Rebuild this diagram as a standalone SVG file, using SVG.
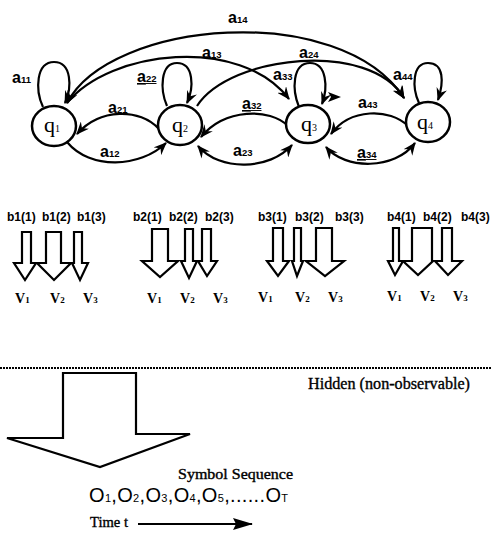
<svg xmlns="http://www.w3.org/2000/svg" width="492" height="536" viewBox="0 0 492 536">
  <defs>
    <marker id="arrow" viewBox="0 0 12 10" refX="11" refY="5" markerWidth="13" markerHeight="11" markerUnits="userSpaceOnUse" orient="auto-start-reverse">
      <path d="M0,0 L12,5 L0,10 L4,5 z" fill="#000"/>
    </marker>
    <marker id="bigarrow" viewBox="0 0 20 12" refX="19" refY="6" markerWidth="20" markerHeight="12" markerUnits="userSpaceOnUse" orient="auto">
      <path d="M0,0 L20,6 L0,12 L3,6 z" fill="#000"/>
    </marker>
  </defs>
  <style>
    .state { fill: #fff; stroke: #000; stroke-width: 2.5; }
    .edge { fill: none; stroke: #000; stroke-width: 2.2; }
    .qlbl { font-family: "Liberation Serif", serif; font-size: 22px; fill: #000; }
    .qsub { font-size: 10px; }
    .albl { font-family: "Liberation Sans", Arial, sans-serif; font-weight: bold; font-size: 16px; fill: #000; }
    .asub { font-size: 9.5px; }
    .ul { text-decoration: underline; }
    .blbl { font-family: "Liberation Sans", Arial, sans-serif; font-weight: bold; font-size: 12px; fill: #000; }
    .vlbl { font-family: "Liberation Serif", serif; font-weight: bold; font-size: 14px; fill: #000; }
    .vsub { font-size: 9px; }
    .block { fill: #fff; stroke: #000; stroke-width: 2.2; stroke-linejoin: miter; }
    .serif { font-family: "Liberation Serif", serif; fill: #000; stroke: #000; stroke-width: 0.35; }
    .obs { font-family: "Liberation Sans", Arial, sans-serif; font-size: 20px; fill: #000; }
    .osub { font-size: 11px; }
  </style>

  <!-- transitions between states -->
  <g id="connectors">
    <!-- self loops -->
    <path class="edge" d="M43,107 C35,90 36,62 54,62 C72,62 72,88 65,103" marker-end="url(#arrow)"/>
    <path class="edge" d="M167,106 C160,90 160,63 177,63 C194,63 194,88 187,103" marker-end="url(#arrow)"/>
    <path class="edge" d="M299,107 C292,90 292,63 310,63 C327,63 328,88 322,104" marker-end="url(#arrow)"/>
    <path d="M328,92 L341,97 L328,102 L331,97 z" fill="#000"/>
    <path class="edge" d="M419,103 C412,88 412,63 428,63 C444,63 444,82 438,100" marker-end="url(#arrow)"/>
    <!-- long-range arcs -->
    <path class="edge" d="M67,103 C110,20 340,0 404,98" marker-start="url(#arrow)" marker-end="url(#arrow)"/>
    <path class="edge" d="M67,103 C110,50 240,35 289,99" marker-end="url(#arrow)"/>
    <path class="edge" d="M197,106 C230,55 370,40 404,98" marker-end="url(#arrow)"/>
    <!-- neighbouring states -->
    <path class="edge" d="M159,129 C140,108 100,108 77,134" marker-end="url(#arrow)"/>
    <path class="edge" d="M67,142 C90,170 140,168 166,143" marker-end="url(#arrow)"/>
    <path class="edge" d="M288,126 C270,108 225,108 201,137" marker-end="url(#arrow)"/>
    <path class="edge" d="M198,146 C220,172 270,170 292,145" marker-start="url(#arrow)" marker-end="url(#arrow)"/>
    <path class="edge" d="M408,126 C390,108 350,108 331,134" marker-end="url(#arrow)"/>
    <path class="edge" d="M326,147 C345,170 395,170 415,143" marker-start="url(#arrow)" marker-end="url(#arrow)"/>
  </g>

  <!-- transition labels -->
  <g id="transition-labels">
    <text class="albl" x="12" y="83">a<tspan class="asub">11</tspan></text>
    <text class="albl" x="228" y="23">a<tspan class="asub">14</tspan></text>
    <text class="albl" x="202" y="58">a<tspan class="asub">13</tspan></text>
    <text class="albl ul" x="137" y="82">a<tspan class="asub">22</tspan></text>
    <text class="albl" x="108" y="113">a<tspan class="asub">21</tspan></text>
    <text class="albl" x="100" y="157">a<tspan class="asub">12</tspan></text>
    <text class="albl" x="299" y="58">a<tspan class="asub">24</tspan></text>
    <text class="albl" x="273" y="80">a<tspan class="asub">33</tspan></text>
    <text class="albl ul" x="242" y="109">a<tspan class="asub">32</tspan></text>
    <text class="albl" x="358" y="108">a<tspan class="asub">43</tspan></text>
    <text class="albl" x="393" y="80">a<tspan class="asub">44</tspan></text>
    <text class="albl" x="233" y="156">a<tspan class="asub">23</tspan></text>
    <text class="albl ul" x="357" y="158">a<tspan class="asub">34</tspan></text>
  </g>

  <!-- states -->
  <g id="q1">
    <ellipse class="state" cx="54" cy="126" rx="22" ry="20"/>
    <text class="qlbl" x="44" y="132">q<tspan class="qsub">1</tspan></text>
  </g>
  <g id="q2">
    <ellipse class="state" cx="180" cy="125" rx="22" ry="20"/>
    <text class="qlbl" x="172" y="132">q<tspan class="qsub">2</tspan></text>
  </g>
  <g id="q3">
    <ellipse class="state" cx="308" cy="124" rx="22" ry="19"/>
    <text class="qlbl" x="301" y="131">q<tspan class="qsub">3</tspan></text>
  </g>
  <g id="q4">
    <ellipse class="state" cx="428" cy="122" rx="22" ry="20"/>
    <text class="qlbl" x="417" y="129">q<tspan class="qsub">4</tspan></text>
  </g>

  <!-- emission probabilities of state 1 -->
  <g id="b1">
    <text class="blbl" x="7" y="221">b1(1)</text>
    <text class="blbl" x="42" y="221">b1(2)</text>
    <text class="blbl" x="77" y="221">b1(3)</text>
    <path class="block" d="M22,232 H31 V263 H36 L25,280 L14,263 H22 Z"/>
    <path class="block" d="M46,232 H61 V263 H71 L54,280 L37,263 H46 Z"/>
    <path class="block" d="M74,232 H82 V263 H88 L80,280 L72,263 H74 Z"/>
    <text class="vlbl" x="15" y="303">V<tspan class="vsub">1</tspan></text>
    <text class="vlbl" x="50" y="303">V<tspan class="vsub">2</tspan></text>
    <text class="vlbl" x="83" y="303">V<tspan class="vsub">3</tspan></text>
  </g>

  <!-- emission probabilities of state 2 -->
  <g id="b2">
    <text class="blbl" x="133" y="221">b2(1)</text>
    <text class="blbl" x="169" y="221">b2(2)</text>
    <text class="blbl" x="205" y="221">b2(3)</text>
    <path class="block" d="M152,229 H168 V261 H178 L160,277 L142,261 H152 Z"/>
    <path class="block" d="M185,229 H193 V261 H197 L189,278 L181,261 H185 Z"/>
    <path class="block" d="M202,229 H211 V261 H217 L207,276 L198,261 H202 Z"/>
    <text class="vlbl" x="147" y="303">V<tspan class="vsub">1</tspan></text>
    <text class="vlbl" x="180" y="303">V<tspan class="vsub">2</tspan></text>
    <text class="vlbl" x="213" y="303">V<tspan class="vsub">3</tspan></text>
  </g>

  <!-- emission probabilities of state 3 -->
  <g id="b3">
    <text class="blbl" x="258" y="221">b3(1)</text>
    <text class="blbl" x="295" y="221">b3(2)</text>
    <text class="blbl" x="335" y="221">b3(3)</text>
    <path class="block" d="M273,228 H283 V261 H289 L278,276 L267,261 H273 Z"/>
    <path class="block" d="M294,228 H301 V261 H303 L297,276 L292,261 H294 Z"/>
    <path class="block" d="M316,228 H332 V261 H344 L325,276 L306,261 H316 Z"/>
    <text class="vlbl" x="258" y="302">V<tspan class="vsub">1</tspan></text>
    <text class="vlbl" x="295" y="302">V<tspan class="vsub">2</tspan></text>
    <text class="vlbl" x="328" y="302">V<tspan class="vsub">3</tspan></text>
  </g>

  <!-- emission probabilities of state 4 -->
  <g id="b4">
    <text class="blbl" x="387" y="221">b4(1)</text>
    <text class="blbl" x="423" y="221">b4(2)</text>
    <text class="blbl" x="461" y="221">b4(3)</text>
    <path class="block" d="M393,228 H399 V261 H403 L395,275 L388,261 H393 Z"/>
    <path class="block" d="M412,228 H432 V261 H433 L418,275 L403,261 H412 Z"/>
    <path class="block" d="M442,228 H452 V261 H462 L448,275 L435,261 H442 Z"/>
    <text class="vlbl" x="387" y="301">V<tspan class="vsub">1</tspan></text>
    <text class="vlbl" x="420" y="301">V<tspan class="vsub">2</tspan></text>
    <text class="vlbl" x="453" y="301">V<tspan class="vsub">3</tspan></text>
  </g>

  <!-- boundary between hidden and observed layers -->
  <g id="boundary">
    <line x1="0" y1="368" x2="492" y2="368" stroke="#000" stroke-width="2" stroke-dasharray="2,1"/>
    <text class="serif" x="308" y="389" font-size="16" textLength="162" lengthAdjust="spacingAndGlyphs">Hidden  (non-observable)</text>
  </g>

  <!-- big output arrow -->
  <g id="output-arrow">
    <path class="block" d="M63,373 H136 V434 H190 L100,467 L7,438 H63 Z"/>
  </g>

  <!-- observed symbol sequence -->
  <g id="sequence">
    <text class="serif" x="178" y="479" font-size="14" textLength="115" lengthAdjust="spacingAndGlyphs">Symbol Sequence</text>
    <text class="obs" x="89" y="502" textLength="199">O<tspan class="osub">1</tspan>,O<tspan class="osub">2</tspan>,O<tspan class="osub">3</tspan>,O<tspan class="osub">4</tspan>,O<tspan class="osub">5</tspan>,......O<tspan class="osub">T</tspan></text>
    <text class="serif" x="90" y="527" font-size="14" textLength="38" lengthAdjust="spacingAndGlyphs">Time  t</text>
    <line x1="138" y1="524" x2="252" y2="524" stroke="#000" stroke-width="2" marker-end="url(#bigarrow)"/>
  </g>
</svg>
